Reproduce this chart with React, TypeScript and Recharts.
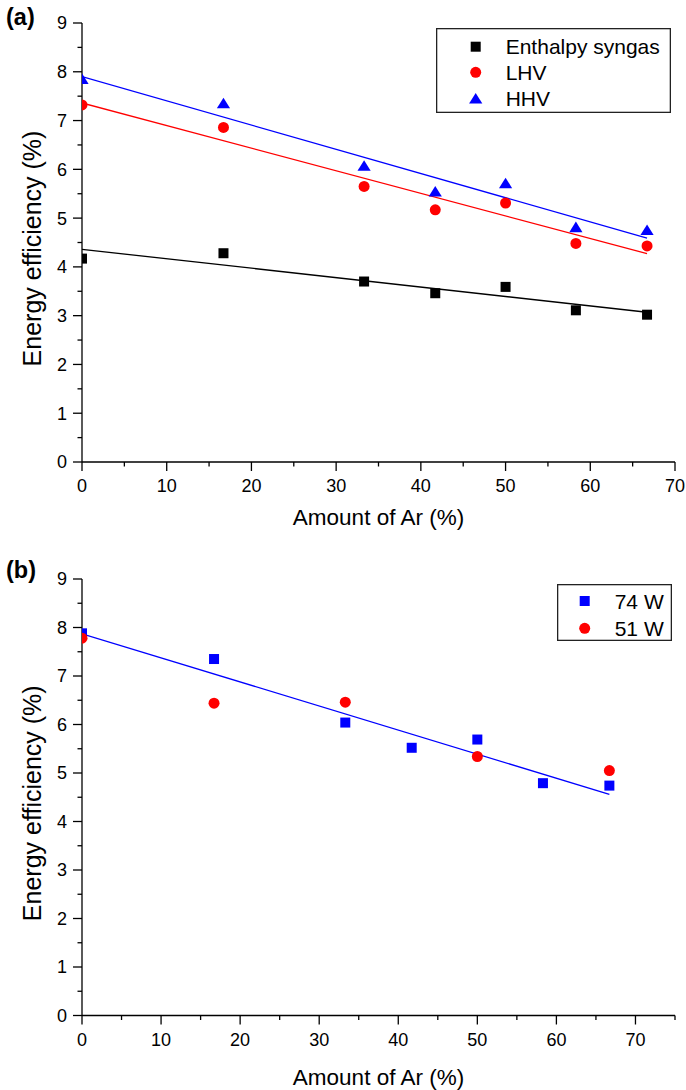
import React from 'react';
import { ScatterChart, Scatter, XAxis, YAxis, Legend } from 'recharts';

const FONT = '"Liberation Sans", Arial, Helvetica, sans-serif';

// ---------- Panel (a) data ----------
const argonA = [0, 16.7, 33.3, 41.7, 50, 58.3, 66.7];
const enthalpySyngas = [4.17, 4.28, 3.7, 3.46, 3.59, 3.11, 3.02];
const lhv = [7.32, 6.86, 5.65, 5.17, 5.31, 4.48, 4.43];
const hhv = [7.86, 7.36, 6.08, 5.55, 5.72, 4.82, 4.76];

const fitX = [0, 66.7];
const enthalpyFit = [4.36, 3.07];
const lhvFit = [7.36, 4.27];
const hhvFit = [7.9, 4.59];

// ---------- Panel (b) data ----------
const argon74 = [0, 16.7, 33.3, 41.7, 50, 58.3, 66.7];
const power74 = [7.88, 7.35, 6.04, 5.52, 5.69, 4.79, 4.74];
const argon51 = [0, 16.7, 33.3, 50, 66.7];
const power51 = [7.78, 6.44, 6.46, 5.34, 5.05];
const power74Fit = [7.87, 4.56];

// ---------- ticks / labels ----------
const xTicksA = [0, 5, 10, 15, 20, 25, 30, 35, 40, 45, 50, 55, 60, 65, 70];
const xTicksB = [0, 5, 10, 15, 20, 25, 30, 35, 40, 45, 50, 55, 60, 65, 70, 75];
const yTicks = [0, 0.5, 1, 1.5, 2, 2.5, 3, 3.5, 4, 4.5, 5, 5.5, 6, 6.5, 7, 7.5, 8, 8.5, 9];
const frameTicks = [1, 2, 3, 4, 5, 6, 7, 8, 9];

const legendA = ['Enthalpy syngas', 'LHV', 'HHV'];
const legendB = ['74 W', '51 W'];
const xTitle = 'Amount of Ar (%)';
const yTitle = 'Energy efficiency (%)';

const BLACK = '#000000';
const RED = '#ff0000';
const BLUE = '#0000ff';

const toPoints = (xs: number[], ys: number[]) => xs.map((x, i) => ({ x, y: ys[i] }));

// ---------- marker shapes ----------
const squareShape = (color: string) => (p: any) =>
  <rect x={p.cx - 5} y={p.cy - 5} width={10} height={10} fill={color} />;
const circleShape = (color: string) => (p: any) =>
  <circle cx={p.cx} cy={p.cy} r={5.5} fill={color} />;
const triangleShape = (color: string) => (p: any) =>
  <polygon points={`${p.cx},${p.cy - 5.3} ${p.cx + 6.6},${p.cy + 5.3} ${p.cx - 6.6},${p.cy + 5.3}`} fill={color} />;
const noShape = () => <g />;

const markerFor = (kind: string, color: string, cx: number, cy: number) => {
  const p = { cx, cy };
  if (kind === 'square') return squareShape(color)(p);
  if (kind === 'circle') return circleShape(color)(p);
  return triangleShape(color)(p);
};

// ---------- tick renderers ----------
const BottomTick = (props: any) => {
  const { x, y, payload } = props;
  const v = payload.value;
  const major = v % 10 === 0;
  return (
    <g>
      <line x1={x} x2={x} y1={y} y2={y + (major ? 9 : 4.5)} stroke={BLACK} strokeWidth={1.3} />
      {major && (
        <text x={x} y={y + 30} textAnchor="middle" fontSize={18} fontFamily={FONT} fill={BLACK}>
          {v}
        </text>
      )}
    </g>
  );
};

const LeftTick = (props: any) => {
  const { x, y, payload } = props;
  const v = payload.value;
  const major = Number.isInteger(v);
  return (
    <g>
      <line x1={x - (major ? 9 : 4.5)} x2={x} y1={y} y2={y} stroke={BLACK} strokeWidth={1.3} />
      {major && (
        <text x={x - 15} y={y + 6.4} textAnchor="end" fontSize={18} fontFamily={FONT} fill={BLACK}>
          {v}
        </text>
      )}
    </g>
  );
};

const makeXTitle = (below: number) => (props: any) => {
  const vb = props.viewBox || {};
  return (
    <text x={vb.x + vb.width / 2} y={vb.y + below} textAnchor="middle" fontSize={22.5} fontFamily={FONT} fill={BLACK}>
      {xTitle}
    </text>
  );
};

const YTitle = (props: any) => {
  const vb = props.viewBox || {};
  const cx = 32;
  const cy = vb.y + vb.height / 2 + 6;
  return (
    <text x={cx} y={cy} transform={`rotate(-90, ${cx}, ${cy})`} textAnchor="middle" dominantBaseline="central"
      fontSize={25} fontFamily={FONT} fill={BLACK}>
      {yTitle}
    </text>
  );
};

// ---------- legends ----------
const LegendA = () => {
  const kinds = ['square', 'circle', 'triangle'];
  const colors = [BLACK, RED, BLUE];
  const rows = [18.7, 44.3, 70.3];
  return (
    <svg width={235} height={85} style={{ display: 'block' }}>
      <rect x={0.65} y={0.65} width={233.7} height={83.7} fill="#fff" stroke="#222" strokeWidth={1.3} />
      {legendA.map((name, i) => (
        <g key={name}>
          {markerFor(kinds[i], colors[i], 39.7, rows[i])}
          <text x={69.7} y={rows[i] + 7.5} fontSize={21} fontFamily={FONT} fill={BLACK}>{name}</text>
        </g>
      ))}
    </svg>
  );
};

const LegendB = () => {
  const kinds = ['square', 'circle'];
  const colors = [BLUE, RED];
  const rows = [17, 44.3];
  return (
    <svg width={115} height={57} style={{ display: 'block' }}>
      <rect x={0.65} y={0.65} width={113.7} height={55.7} fill="#fff" stroke="#222" strokeWidth={1.3} />
      {legendB.map((name, i) => (
        <g key={name}>
          {markerFor(kinds[i], colors[i], 27.7, rows[i])}
          <text x={57.7} y={rows[i] + 7.5} fontSize={21} fontFamily={FONT} fill={BLACK}>{name}</text>
        </g>
      ))}
    </svg>
  );
};

const axisLine = { stroke: BLACK, strokeWidth: 1.3 };

const frameAxes = () => [
  <XAxis key="top" xAxisId="top" orientation="top" type="number" domain={[0, 10]} ticks={frameTicks}
    interval={0} height={0} tick={false} tickSize={3} tickLine={{ stroke: BLACK, strokeWidth: 1.1 }}
    axisLine={axisLine} />,
  <YAxis key="right" yAxisId="right" orientation="right" type="number" domain={[0, 10]} ticks={frameTicks}
    interval={0} width={0} tick={false} tickSize={3} tickLine={{ stroke: BLACK, strokeWidth: 1.1 }}
    axisLine={axisLine} />,
];

const ChartA = () => (
  <ScatterChart width={686} height={545} margin={{ top: 23, right: 11, bottom: 0, left: 0 }}>
    <XAxis dataKey="x" type="number" domain={[0, 70]} ticks={xTicksA} interval={0} allowDataOverflow
      height={83} tickSize={0} tickMargin={0} tickLine={false} tick={BottomTick} axisLine={axisLine}
      label={makeXTitle(62.5)} />
    <YAxis dataKey="y" type="number" domain={[0, 9]} ticks={yTicks} interval={0} allowDataOverflow
      width={82} tickSize={0} tickMargin={0} tickLine={false} tick={LeftTick} axisLine={axisLine}
      label={YTitle} />
    {frameAxes()}
    <Scatter data={toPoints(fitX, enthalpyFit)} line={{ stroke: BLACK, strokeWidth: 1.3 }} shape={noShape} isAnimationActive={false} legendType="none" />
    <Scatter data={toPoints(fitX, lhvFit)} line={{ stroke: RED, strokeWidth: 1.3 }} shape={noShape} isAnimationActive={false} legendType="none" />
    <Scatter data={toPoints(fitX, hhvFit)} line={{ stroke: BLUE, strokeWidth: 1.3 }} shape={noShape} isAnimationActive={false} legendType="none" />
    <Scatter name={legendA[0]} data={toPoints(argonA, enthalpySyngas)} shape={squareShape(BLACK)} isAnimationActive={false} />
    <Scatter name={legendA[1]} data={toPoints(argonA, lhv)} shape={circleShape(RED)} isAnimationActive={false} />
    <Scatter name={legendA[2]} data={toPoints(argonA, hhv)} shape={triangleShape(BLUE)} isAnimationActive={false} />
    <Legend layout="horizontal" align="center" verticalAlign="middle" content={LegendA}
      wrapperStyle={{ left: 436, top: 28, width: 235, height: 85 }} />
  </ScatterChart>
);

const ChartB = () => (
  <ScatterChart width={686} height={540} margin={{ top: 29, right: 11, bottom: 0, left: 0 }}>
    <XAxis dataKey="x" type="number" domain={[0, 75]} ticks={xTicksB} interval={0} allowDataOverflow
      height={74.5} tickSize={0} tickMargin={0} tickLine={false} tick={BottomTick} axisLine={axisLine}
      label={makeXTitle(69.5)} />
    <YAxis dataKey="y" type="number" domain={[0, 9]} ticks={yTicks} interval={0} allowDataOverflow
      width={82} tickSize={0} tickMargin={0} tickLine={false} tick={LeftTick} axisLine={axisLine}
      label={YTitle} />
    {frameAxes()}
    <Scatter data={toPoints(fitX, power74Fit)} line={{ stroke: BLUE, strokeWidth: 1.3 }} shape={noShape} isAnimationActive={false} legendType="none" />
    <Scatter name={legendB[0]} data={toPoints(argon74, power74)} shape={squareShape(BLUE)} isAnimationActive={false} />
    <Scatter name={legendB[1]} data={toPoints(argon51, power51)} shape={circleShape(RED)} isAnimationActive={false} />
    <Legend layout="horizontal" align="center" verticalAlign="middle" content={LegendB}
      wrapperStyle={{ left: 557, top: 34, width: 115, height: 57 }} />
  </ScatterChart>
);

export default function App() {
  return (
    <div style={{ position: 'absolute', left: 0, top: 0, width: 686, height: 1090, background: '#fff' }}>
      <div style={{ position: 'absolute', left: 0, top: 0 }}>
        <ChartA />
      </div>
      <div style={{ position: 'absolute', left: 0, top: 550 }}>
        <ChartB />
      </div>
      <svg width={60} height={1090} style={{ position: 'absolute', left: 0, top: 0, pointerEvents: 'none' }}>
        <text x={6} y={25} fontSize={23.5} fontWeight="bold" fontFamily={FONT} fill={BLACK}>(a)</text>
        <text x={6} y={578} fontSize={23.5} fontWeight="bold" fontFamily={FONT} fill={BLACK}>(b)</text>
      </svg>
    </div>
  );
}
